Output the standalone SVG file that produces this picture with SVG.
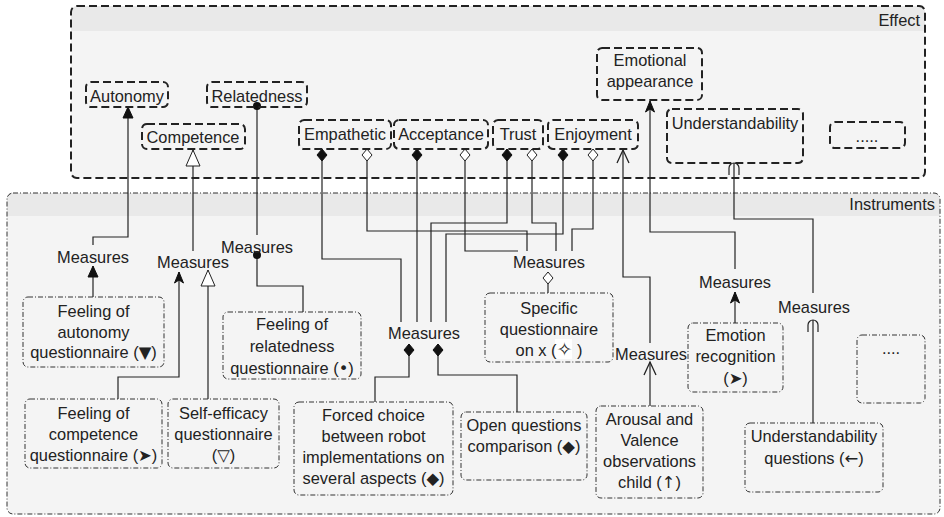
<svg xmlns="http://www.w3.org/2000/svg" width="944" height="517" viewBox="0 0 944 517">
<style>
text{font-family:"Liberation Sans",Arial,"DejaVu Sans",sans-serif;font-size:16.4px;fill:#222;text-anchor:middle}
.eff{fill:none;stroke:#222;stroke-width:2;stroke-dasharray:8 4}
.ins{fill:none;stroke:#333;stroke-width:1;stroke-dasharray:5 2 1 2}
.c{fill:none;stroke:#222;stroke-width:1.2}
.sym{font-family:"DejaVu Sans",sans-serif}
</style>
<defs>
<marker id="fd" markerUnits="userSpaceOnUse" orient="auto" refX="0" refY="0" markerWidth="20" markerHeight="20" overflow="visible"><path d="M0,0 L6,-5 L12,0 L6,5 Z" fill="#111" stroke="#111" stroke-width="1"/></marker>
<marker id="hd" markerUnits="userSpaceOnUse" orient="auto" refX="0" refY="0" markerWidth="20" markerHeight="20" overflow="visible"><path d="M0,0 L6,-5 L12,0 L6,5 Z" fill="#fff" stroke="#222" stroke-width="1"/></marker>
<marker id="ft" markerUnits="userSpaceOnUse" orient="auto" refX="0" refY="0" markerWidth="20" markerHeight="20" overflow="visible"><path d="M0,0 L-11,-5 L-11,5 Z" fill="#111" stroke="#111" stroke-width="1"/></marker>
<marker id="ht" markerUnits="userSpaceOnUse" orient="auto" refX="0" refY="0" markerWidth="20" markerHeight="20" overflow="visible"><path d="M0,0 L-16,-7 L-16,7 Z" fill="#fff" stroke="#222" stroke-width="1"/></marker>
<marker id="cl" markerUnits="userSpaceOnUse" orient="auto" refX="0" refY="0" markerWidth="20" markerHeight="20" overflow="visible"><path d="M0,0 L-11,-4.5 L-8,0 L-11,4.5 Z" fill="#111" stroke="#111" stroke-width="1"/></marker>
<marker id="ov" markerUnits="userSpaceOnUse" orient="auto" refX="0" refY="0" markerWidth="20" markerHeight="20" overflow="visible"><path d="M-13,-6 L0,0 L-13,6" fill="none" stroke="#222" stroke-width="1.3"/></marker>
<marker id="ar" markerUnits="userSpaceOnUse" orient="auto" refX="0" refY="0" markerWidth="20" markerHeight="20" overflow="visible"><path d="M-12,-5 L-5,-5 A5,5 0 0 1 -5,5 L-12,5" fill="none" stroke="#222" stroke-width="1.2"/></marker>
</defs>
<rect width="944" height="517" fill="#fff"/>
<g id="effect">
<rect x="71" y="6" width="854" height="172" rx="6" fill="#f4f4f4"/>
<path d="M71,31 V12 a6,6 0 0 1 6,-6 H919 a6,6 0 0 1 6,6 V31 Z" fill="#e9e9e9"/>
<rect x="71" y="6" width="854" height="172" rx="6" class="eff"/>
<text x="920" y="26" style="text-anchor:end">Effect</text>
</g>
<g id="instruments">
<rect x="7" y="193" width="933" height="321" rx="6" fill="#f4f4f4"/>
<path d="M7,216 V199 a6,6 0 0 1 6,-6 H934 a6,6 0 0 1 6,6 V216 Z" fill="#e9e9e9"/>
<rect x="7" y="193" width="933" height="321" rx="6" class="ins"/>
<text x="935" y="210" style="text-anchor:end">Instruments</text>
</g>
<g id="connectors">
<path class="c" d="M93,245 V237 H128 V107" marker-end="url(#ft)"/>
<path class="c" d="M93,297 V266" marker-end="url(#ft)"/>
<path class="c" d="M193,251 V150" marker-end="url(#ht)"/>
<path class="c" d="M118,399 V377 H179 V272" marker-end="url(#cl)"/>
<path class="c" d="M208,399 V270" marker-end="url(#ht)"/>
<path class="c" d="M257,235 V106"/>
<circle cx="257" cy="106" r="4" fill="#111"/>
<path class="c" d="M303,312 V286 H257 V255"/>
<circle cx="257" cy="255" r="4" fill="#111"/>
<path class="c" d="M322,149 V259 H401 V322" marker-start="url(#fd)"/>
<path class="c" d="M417,149 V322" marker-start="url(#fd)"/>
<path class="c" d="M507,149 V223 H431 V322" marker-start="url(#fd)"/>
<path class="c" d="M563,149 V234 H446 V322" marker-start="url(#fd)"/>
<path class="c" d="M409,344 V377 H375 V402" marker-start="url(#fd)"/>
<path class="c" d="M438,344 V375 H517 V412" marker-start="url(#fd)"/>
<path class="c" d="M367,149 V231 H527 V251" marker-start="url(#hd)"/>
<path class="c" d="M465,149 V251 H518" marker-start="url(#hd)"/>
<path class="c" d="M532,149 V223 H556 V251" marker-start="url(#hd)"/>
<path class="c" d="M593,149 V229 H572 V251" marker-start="url(#hd)"/>
<path class="c" d="M548,272 V293" marker-start="url(#hd)"/>
<path class="c" d="M650,343 V277 H623 V150" marker-end="url(#ov)"/>
<path class="c" d="M650,406 V362" marker-end="url(#ov)"/>
<path class="c" d="M735,269 V232 H650 V101" marker-end="url(#cl)"/>
<path class="c" d="M735,323 V292" marker-end="url(#cl)"/>
<path class="c" d="M813,293 V219 H734 V163" marker-end="url(#ar)"/>
<path class="c" d="M813,423 V320" marker-end="url(#ar)"/>
</g>
<g id="autonomy"><rect x="86" y="82" width="82" height="25" rx="5" class="eff"/><text x="127" y="102">Autonomy</text></g>
<g id="relatedness"><rect x="207" y="82" width="100" height="25" rx="5" class="eff"/><text x="257" y="102">Relatedness</text></g>
<g id="competence"><rect x="142" y="124" width="103" height="25" rx="5" class="eff"/><text x="193" y="143">Competence</text></g>
<g id="empathetic"><rect x="299" y="120" width="92" height="29" rx="5" class="eff"/><text x="345" y="140">Empathetic</text></g>
<g id="acceptance"><rect x="394" y="120" width="94" height="29" rx="5" class="eff"/><text x="441" y="140">Acceptance</text></g>
<g id="trust"><rect x="493" y="120" width="50" height="29" rx="5" class="eff"/><text x="518" y="140">Trust</text></g>
<g id="enjoyment"><rect x="548" y="120" width="90" height="29" rx="5" class="eff"/><text x="593" y="140">Enjoyment</text></g>
<g id="emotional-appearance"><rect x="597" y="48" width="105" height="52" rx="5" class="eff"/><text x="650" y="66">Emotional</text><text x="650" y="87">appearance</text></g>
<g id="understandability"><rect x="667" y="109" width="136" height="54" rx="5" class="eff"/><text x="735" y="129">Understandability</text></g>
<g id="effect-more"><rect x="830" y="122" width="75" height="26" rx="5" class="eff"/><text x="867" y="142">.....</text></g>
<g id="m-aut"><text x="93" y="262.5">Measures</text></g>
<g id="m-comp"><text x="193" y="267.5">Measures</text></g>
<g id="m-rel"><text x="257" y="252.5">Measures</text></g>
<g id="m-mid"><text x="424" y="338.5">Measures</text></g>
<g id="m-spec"><text x="549" y="267.5">Measures</text></g>
<g id="m-arousal"><text x="651" y="359.5">Measures</text></g>
<g id="m-emo"><text x="735" y="287.5">Measures</text></g>
<g id="m-und"><text x="814" y="312.5">Measures</text></g>
<g id="q-autonomy"><rect x="23" y="297" width="141" height="70" rx="5" class="ins"/><text x="93.5" y="316.5">Feeling of</text><text x="93.5" y="337.5">autonomy</text><text x="93.5" y="358">questionnaire (<tspan class="sym">▼</tspan>)</text></g>
<g id="q-relatedness"><rect x="223" y="312" width="138" height="67" rx="5" class="ins"/><text x="292" y="330">Feeling of</text><text x="292" y="352">relatedness</text><text x="292" y="374">questionnaire (<tspan class="sym">•</tspan>)</text></g>
<g id="q-competence"><rect x="25" y="399" width="137" height="69" rx="5" class="ins"/><text x="93.5" y="418.5">Feeling of</text><text x="93.5" y="439.5">competence</text><text x="93.5" y="460.5">questionnaire (<tspan class="sym">➤</tspan>)</text></g>
<g id="q-selfefficacy"><rect x="168" y="399" width="111" height="69" rx="5" class="ins"/><text x="223.5" y="418.5">Self-efficacy</text><text x="223.5" y="439.5">questionnaire</text><text x="223.5" y="460.5">(<tspan class="sym">▽</tspan>)</text></g>
<g id="q-forced"><rect x="294" y="402" width="159" height="93" rx="5" class="ins"/><text x="373.5" y="420.5">Forced choice</text><text x="373.5" y="442">between robot</text><text x="373.5" y="463">implementations on</text><text x="373.5" y="484">several aspects (<tspan class="sym">◆</tspan>)</text></g>
<g id="q-open"><rect x="461" y="412" width="126" height="68" rx="5" class="ins"/><text x="524" y="430.5">Open questions</text><text x="524" y="451.5">comparison (<tspan class="sym">◆</tspan>)</text></g>
<g id="q-specific"><rect x="485" y="293" width="128" height="69" rx="5" class="ins"/><rect x="555" y="339" width="17" height="20" fill="#fff"/><text x="549" y="313.5">Specific</text><text x="549" y="334.5">questionnaire</text><text x="549" y="355.5">on x (<tspan class="sym" style="font-size:19px">✧</tspan> )</text></g>
<g id="q-arousal"><rect x="596" y="406" width="107" height="92" rx="5" class="ins"/><text x="649.5" y="424.5">Arousal and</text><text x="649.5" y="445.5">Valence</text><text x="649.5" y="466.5">observations</text><text x="649.5" y="487.5">child (<tspan class="sym">↑</tspan>)</text></g>
<g id="q-emotion"><rect x="688" y="323" width="95" height="69" rx="5" class="ins"/><text x="735.5" y="340.5">Emotion</text><text x="735.5" y="362">recognition</text><text x="735.5" y="384">(<tspan class="sym">➤</tspan>)</text></g>
<g id="q-understandability"><rect x="745" y="423" width="138" height="69" rx="5" class="ins"/><text x="814" y="441.5">Understandability</text><text x="814" y="463.5">questions (<tspan class="sym">←</tspan>)</text></g>
<g id="q-more"><rect x="857" y="335" width="68" height="68" rx="5" class="ins"/><text x="891" y="354">....</text></g>
</svg>
